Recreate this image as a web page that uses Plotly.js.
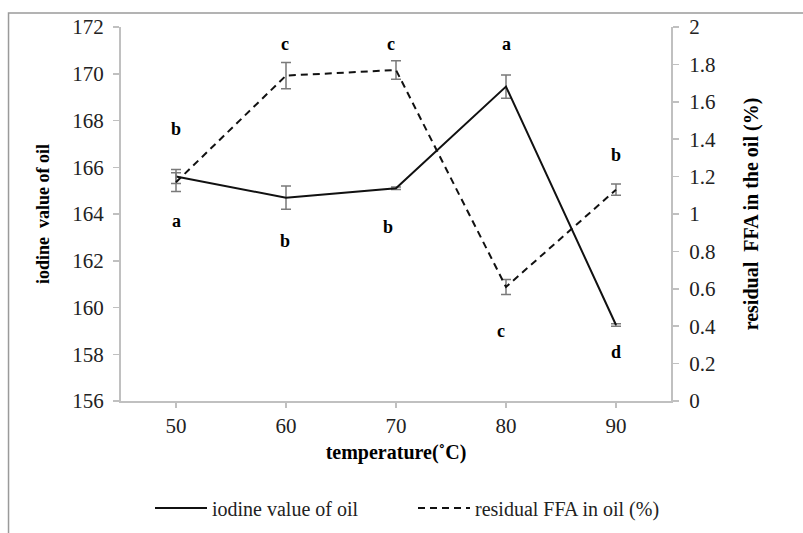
<!DOCTYPE html>
<html>
<head>
<meta charset="utf-8">
<script src="https://cdn.plot.ly/plotly-3.0.1.min.js"></script>
<style>html,body{margin:0;padding:0;background:#fff;}#chart{width:803px;height:533px;}</style>
</head>
<body>
<div id="chart"></div>
<script>
// ---- data ----
var temperature = [50, 60, 70, 80, 90];
var iodineValue = [165.6, 164.7, 165.1, 169.45, 159.25];
var iodineError = [0.3, 0.5, 0.05, 0.5, 0.05];
var residualFFA = [1.17, 1.74, 1.77, 0.61, 1.13];
var ffaError = [0.05, 0.07, 0.05, 0.04, 0.03];
var iodineLetters = ['a', 'b', 'b', 'a', 'd'];
var ffaLetters = ['b', 'c', 'c', 'c', 'b'];
var xTicks = [50, 60, 70, 80, 90];

// ---- layout helpers (positions, not data) ----
var iodineLetterPos = [[50, 163.7], [59.9, 162.85], [69.3, 163.44], [80, 171.27], [90, 158.1]];
var ffaLetterPos = [[50, 167.64], [59.9, 171.27], [69.5, 171.27], [79.5, 159.0], [90, 166.52]];

var serif = 'Liberation Serif, Times New Roman, serif';
var axisGray = '#c0c0c0';
var errGray = '#7a7a7a';

var traces = [
  {
    x: temperature, y: iodineValue, type: 'scatter', mode: 'lines',
    name: 'iodine value of oil',
    line: {color: '#111', width: 2},
    error_y: {type: 'data', array: iodineError, visible: true, color: errGray, thickness: 1.5, width: 5},
    yaxis: 'y'
  },
  {
    x: temperature, y: residualFFA, type: 'scatter', mode: 'lines',
    name: 'residual FFA in oil (%)',
    line: {color: '#111', width: 2, dash: '7px,5px'},
    error_y: {type: 'data', array: ffaError, visible: true, color: errGray, thickness: 1.5, width: 5},
    yaxis: 'y2'
  }
];

var annotations = [];
function addLetters(letters, pos) {
  for (var i = 0; i < letters.length; i++) {
    annotations.push({
      x: pos[i][0], y: pos[i][1], xref: 'x', yref: 'y', text: letters[i],
      showarrow: false, font: {family: serif, size: 18, color: '#000', weight: 'bold'}
    });
  }
}
addLetters(iodineLetters, iodineLetterPos);
addLetters(ffaLetters, ffaLetterPos);

var layout = {
  width: 803, height: 533,
  margin: {l: 121, r: 132, t: 27, b: 132},
  paper_bgcolor: '#fff', plot_bgcolor: '#fff',
  showlegend: true,
  legend: {
    orientation: 'h', xref: 'container', yref: 'container',
    x: 150 / 803, xanchor: 'left', y: (533 - 508) / 533, yanchor: 'middle',
    entrywidth: 196, entrywidthmode: 'pixels', itemwidth: 52,
    font: {family: serif, size: 20, color: '#222'}, bgcolor: 'rgba(0,0,0,0)'
  },
  xaxis: {
    range: [45, 95], tickvals: xTicks, ticktext: xTicks.map(String),
    showgrid: false, zeroline: false, showline: true, linecolor: axisGray, linewidth: 2,
    ticks: 'outside', ticklen: 5, tickcolor: axisGray, tickwidth: 1.5, ticklabelstandoff: 0,
    tickfont: {family: serif, size: 21, color: '#222'},
    title: {text: 'temperature(˚C)', font: {family: serif, size: 20, color: '#000', weight: 'bold'}, standoff: 8}
  },
  yaxis: {
    range: [156, 172], dtick: 2, tick0: 156,
    showgrid: false, zeroline: false, showline: true, linecolor: axisGray, linewidth: 2,
    ticks: 'outside', ticklen: 6, tickcolor: axisGray, tickwidth: 1.5, ticklabelstandoff: 5,
    tickfont: {family: serif, size: 21, color: '#222'},
    title: {text: 'iodine\u00a0 value of oil', font: {family: serif, size: 18, color: '#000', weight: 'bold'}, standoff: 18}
  },
  yaxis2: {
    range: [0, 2], dtick: 0.2, tick0: 0, overlaying: 'y', side: 'right',
    showgrid: false, zeroline: false, showline: true, linecolor: axisGray, linewidth: 2,
    ticks: 'outside', ticklen: 6, tickcolor: axisGray, tickwidth: 1.5, ticklabelstandoff: 6,
    tickfont: {family: serif, size: 21, color: '#222'},
    title: {text: 'residual\u00a0 FFA in the oil (%)', font: {family: serif, size: 20, color: '#000', weight: 'bold'}, standoff: 29}
  },
  annotations: annotations,
  shapes: [{
    type: 'rect', xref: 'paper', yref: 'paper',
    x0: -0.2045, x1: 1.3, y0: -0.5, y1: 1.0374,
    line: {color: '#9a9a9a', width: 1.5}, fillcolor: 'rgba(0,0,0,0)', layer: 'below'
  }]
};

Plotly.newPlot('chart', traces, layout, {displayModeBar: false, staticPlot: true});
</script>
</body>
</html>
